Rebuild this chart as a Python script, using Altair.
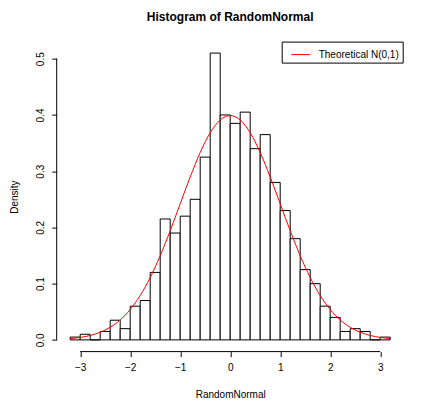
import altair as alt
import pandas as pd

# Histogram breaks (bin edges) and densities
breaks = [-3.2, -3.0, -2.8, -2.6, -2.4, -2.2, -2.0, -1.8, -1.6, -1.4, -1.2,
          -1.0, -0.8, -0.6, -0.4, -0.2, 0.0, 0.2, 0.4, 0.6, 0.8, 1.0, 1.2,
          1.4, 1.6, 1.8, 2.0, 2.2, 2.4, 2.6, 2.8, 3.0, 3.2]
densities = [0.005, 0.010, 0.000, 0.015, 0.035, 0.020, 0.060, 0.070,
             0.120, 0.215, 0.190, 0.220, 0.250, 0.325, 0.510, 0.400,
             0.385, 0.405, 0.340, 0.365, 0.280, 0.230, 0.180, 0.125,
             0.100, 0.060, 0.040, 0.015, 0.020, 0.015, 0.000, 0.005]

# Theoretical N(0,1) curve, read at the break points
curve_x = breaks
curve_y = [0.0024, 0.0044, 0.0079, 0.0136, 0.0224, 0.0355, 0.0540, 0.0790,
           0.1109, 0.1497, 0.1942, 0.2420, 0.2897, 0.3332, 0.3683, 0.3910,
           0.3989, 0.3910, 0.3683, 0.3332, 0.2897, 0.2420, 0.1942, 0.1497,
           0.1109, 0.0790, 0.0540, 0.0355, 0.0224, 0.0136, 0.0079, 0.0044,
           0.0024]

x_ticks = [-3, -2, -1, 0, 1, 2, 3]
y_ticks = [0.0, 0.1, 0.2, 0.3, 0.4, 0.5]
series_name = "Theoretical N(0,1)"

X_DOMAIN = [-3.47, 3.47]
Y_DOMAIN = [-0.0208, 0.5304]
FONT = "Liberation Sans"

hist_df = pd.DataFrame({
    "left": breaks[:-1],
    "right": breaks[1:],
    "density": densities,
    "base": [0.0] * len(densities),
})
curve_df = pd.DataFrame({"x": curve_x, "y": curve_y, "series": series_name})

xscale = alt.Scale(domain=X_DOMAIN, nice=False, zero=False)
yscale = alt.Scale(domain=Y_DOMAIN, nice=False, zero=False)

bars = alt.Chart(hist_df).mark_rect(
    fill="white", stroke="black", strokeWidth=1
).encode(
    x=alt.X("left:Q", scale=xscale, axis=alt.Axis(
        values=x_ticks, format="d", title="RandomNormal", domain=False,
        grid=False, tickSize=5, tickColor="black", labelPadding=6,
        labelFontSize=10, labelFont=FONT, labelColor="black",
        titleFont=FONT, titleFontSize=10, titleFontWeight="normal",
        titleColor="black", titleY=46, titleBaseline="alphabetic")),
    x2="right:Q",
    y=alt.Y("base:Q", scale=yscale, axis=alt.Axis(
        values=y_ticks, format=".1f", title="Density", domain=False,
        grid=False, tickSize=5, tickColor="black", labelAngle=270,
        labelAlign="center", labelBaseline="alphabetic", labelPadding=8,
        labelFontSize=10, labelFont=FONT, labelColor="black",
        titleFont=FONT, titleFontSize=10, titleFontWeight="normal",
        titleColor="black", titleX=-39, titleBaseline="alphabetic")),
    y2="density:Q",
)

curve = alt.Chart(curve_df).mark_line(
    strokeWidth=1, interpolate="monotone"
).encode(
    x=alt.X("x:Q", scale=xscale),
    y=alt.Y("y:Q", scale=yscale),
    color=alt.Color("series:N", scale=alt.Scale(domain=[series_name], range=["#FF0000"]),
                    legend=alt.Legend(
                        title=None, orient="none", legendX=225, legendY=0,
                        symbolType="stroke", symbolSize=361, symbolStrokeWidth=1,
                        labelFont=FONT, labelFontSize=10, labelColor="black",
                        labelOffset=8, padding=3, symbolOffset=6,
                        strokeColor="black", fillColor="white", cornerRadius=0)),
)

x_axis_line = alt.Chart(pd.DataFrame({"a": [x_ticks[0]], "b": [x_ticks[-1]], "c": [Y_DOMAIN[0]]})).mark_rule(
    color="black", strokeWidth=1
).encode(x=alt.X("a:Q", scale=xscale), x2="b:Q", y=alt.Y("c:Q", scale=yscale))

y_axis_line = alt.Chart(pd.DataFrame({"a": [y_ticks[0]], "b": [y_ticks[-1]], "c": [X_DOMAIN[0]]})).mark_rule(
    color="black", strokeWidth=1
).encode(y=alt.Y("a:Q", scale=yscale), y2="b:Q", x=alt.X("c:Q", scale=xscale))

chart = alt.layer(bars, curve, x_axis_line, y_axis_line).properties(
    width=347,
    height=310,
    title=alt.TitleParams("Histogram of RandomNormal", font=FONT, fontSize=12,
                          fontWeight="bold", color="black", anchor="middle",
                          baseline="alphabetic", offset=8),
    autosize=alt.AutoSizeParams(type="none"),
    padding={"left": 56.7, "top": 41.6, "right": 19.3, "bottom": 59.4},
    background="white",
).configure_view(stroke=None)

chart.save("out.html", embed_options={"renderer": "svg", "actions": False})
